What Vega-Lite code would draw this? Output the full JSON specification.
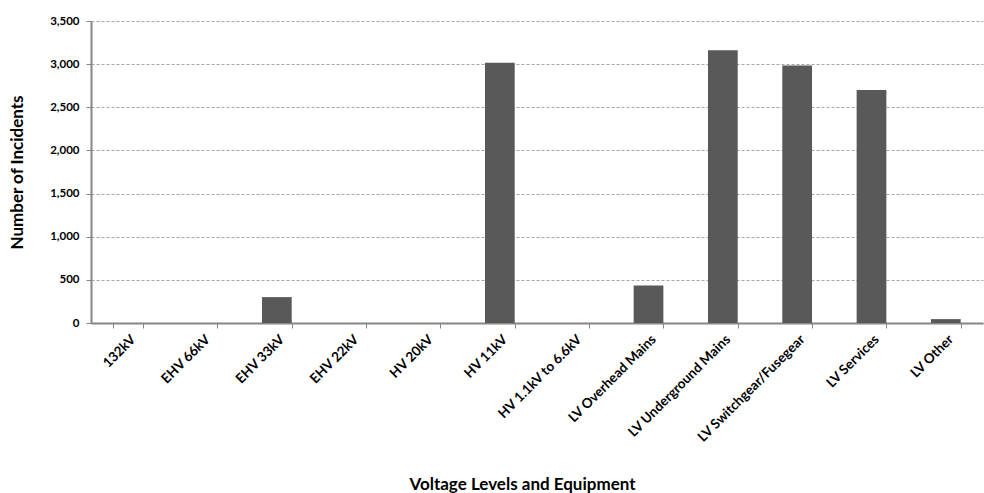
{
  "$schema": "https://vega.github.io/schema/vega-lite/v6.json",
  "width": 892,
  "height": 302,
  "autosize": {"type": "none"},
  "padding": {"left": 91, "top": 21, "right": 1, "bottom": 170},
  "background": "white",
  "config": {
    "view": {"stroke": null},
    "font": "Lato",
    "axis": {
      "labelFont": "Lato",
      "labelFontWeight": "bold",
      "labelColor": "#000000",
      "titleFont": "Lato",
      "titleFontWeight": "bold",
      "titleColor": "#000000"
    }
  },
  "data": {
    "values": [
      {"category": "132kV", "incidents": 0},
      {"category": "EHV 66kV", "incidents": 0},
      {"category": "EHV 33kV", "incidents": 300},
      {"category": "EHV 22kV", "incidents": 0},
      {"category": "HV 20kV", "incidents": 0},
      {"category": "HV 11kV", "incidents": 3015},
      {"category": "HV 1.1kV to 6.6kV", "incidents": 0},
      {"category": "LV Overhead Mains", "incidents": 435},
      {"category": "LV Underground Mains", "incidents": 3160},
      {"category": "LV Switchgear/Fusegear", "incidents": 2985},
      {"category": "LV Services", "incidents": 2700},
      {"category": "LV Other", "incidents": 45}
    ]
  },
  "mark": {"type": "bar", "color": "#595959"},
  "encoding": {
    "x": {
      "field": "category",
      "type": "nominal",
      "sort": null,
      "scale": {"paddingInner": 0.6, "paddingOuter": 0.3},
      "axis": {
        "title": "Voltage Levels and Equipment",
        "titleFontSize": 17,
        "titleX": 431,
        "titleY": 166,
        "titleAlign": "center",
        "titleBaseline": "alphabetic",
        "labelAngle": -45,
        "labelFontSize": 13.5,
        "labelPadding": 4,
        "tickBand": "extent",
        "ticks": true,
        "tickSize": 5,
        "tickColor": "#868686",
        "domainColor": "#868686",
        "domainWidth": 2,
        "grid": false
      }
    },
    "y": {
      "field": "incidents",
      "type": "quantitative",
      "scale": {"domain": [0, 3500]},
      "axis": {
        "title": "Number of Incidents",
        "titleFontSize": 17,
        "titleX": -74,
        "titleY": 151,
        "titleAngle": -90,
        "titleAlign": "center",
        "titleBaseline": "middle",
        "values": [0, 500, 1000, 1500, 2000, 2500, 3000, 3500],
        "format": ",d",
        "labelFontSize": 11.5,
        "labelPadding": 7,
        "tickSize": 5,
        "tickColor": "#868686",
        "domainColor": "#868686",
        "domainWidth": 2,
        "grid": true,
        "gridColor": "#a6a6a6",
        "gridDash": [3, 2],
        "gridWidth": 1
      }
    }
  }
}
